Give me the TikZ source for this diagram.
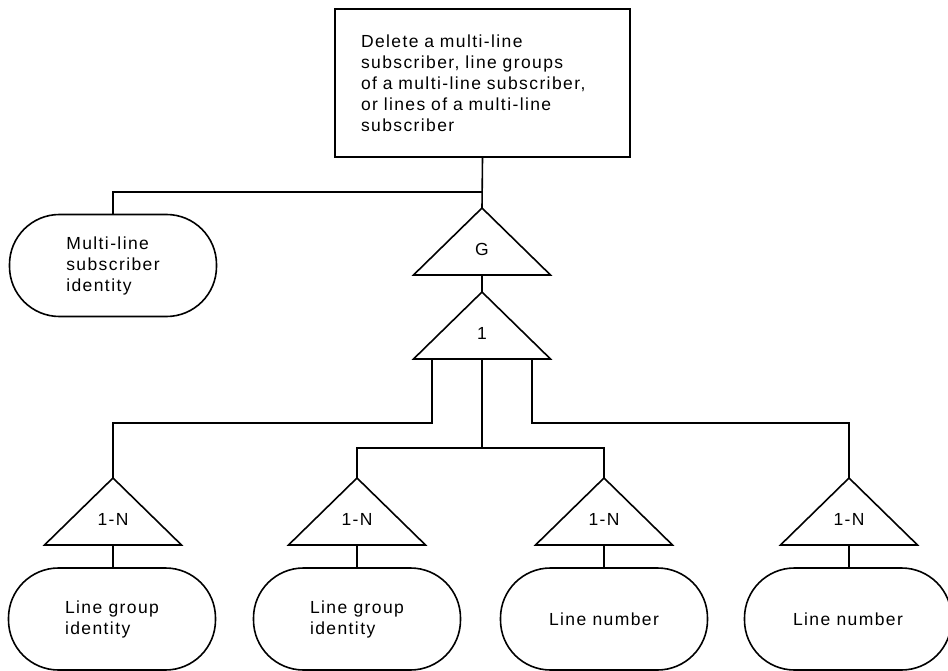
\documentclass[tikz,border=0pt]{standalone}
\usepackage{fontspec}
\setmainfont{Liberation Sans}[LetterSpace=8]
\begin{document}
\begin{tikzpicture}[x=1pt,y=-1pt,line width=1.6pt,
  every node/.style={font=\fontsize{17.5}{21}\selectfont},
  oval/.style={draw,rounded corners=50pt,minimum width=207pt,minimum height=102pt,align=left,inner sep=0pt},
  wire/.style={draw,line width=1.6pt}]
\useasboundingbox (0,0) rectangle (948,671);
% top box
\node[draw,minimum height=148pt,text width=243pt,inner xsep=26pt,align=left] (box) at (482.5,83)
  {Delete a multi-line\\subscriber, line groups\\of a multi-line subscriber,\\or lines of a multi-line\\subscriber};
% ovals
\node[oval] (msi) at (113,265.5) {Multi-line\\subscriber\\identity};
\node[oval] (o1) at (112,619) {Line group\\identity};
\node[oval] (o2) at (357,619) {Line group\\identity};
\node[oval] (o3) at (604,619) {Line number};
\node[oval] (o4) at (848,619) {Line number};
% triangles
\newcommand\mytri[4]{% name, x, apex y, label
  \coordinate (#1-top) at (#2,#3);
  \coordinate (#1-bot) at (#2,#3+67);
  \draw (#2,#3) -- (#2+68.5,#3+67) -- (#2-68.5,#3+67) -- cycle;
  \node (#1) at (#2,#3+41) {#4};}
\mytri{G}{482}{208}{G}
\mytri{one}{482}{292}{1}
\mytri{t1}{113}{478}{1-N}
\mytri{t2}{357}{478}{1-N}
\mytri{t3}{604}{478}{1-N}
\mytri{t4}{849}{478}{1-N}
% junction coordinates
\coordinate (j0) at (482,192);
\coordinate (oneL) at (432,358);
\coordinate (oneR) at (532,358);
\coordinate (jL) at (432,423);
\coordinate (jM) at (482,448);
\coordinate (jR) at (532,423);
% connectors
\draw (box.south) -- (G-top);
\draw (j0) -| (msi.north);
\draw (G-bot) -- (one-top);
\draw (oneL) -- (jL) -| (t1-top);
\draw (one-bot) -- (jM);
\draw (t2-top) |- (jM) -| (t3-top);
\draw (oneR) -- (jR) -| (t4-top);
\draw (t1-bot) -- (o1.north -| t1-bot);
\draw (t2-bot) -- (o2.north -| t2-bot);
\draw (t3-bot) -- (o3.north -| t3-bot);
\draw (t4-bot) -- (o4.north -| t4-bot);
\end{tikzpicture}
\end{document}
